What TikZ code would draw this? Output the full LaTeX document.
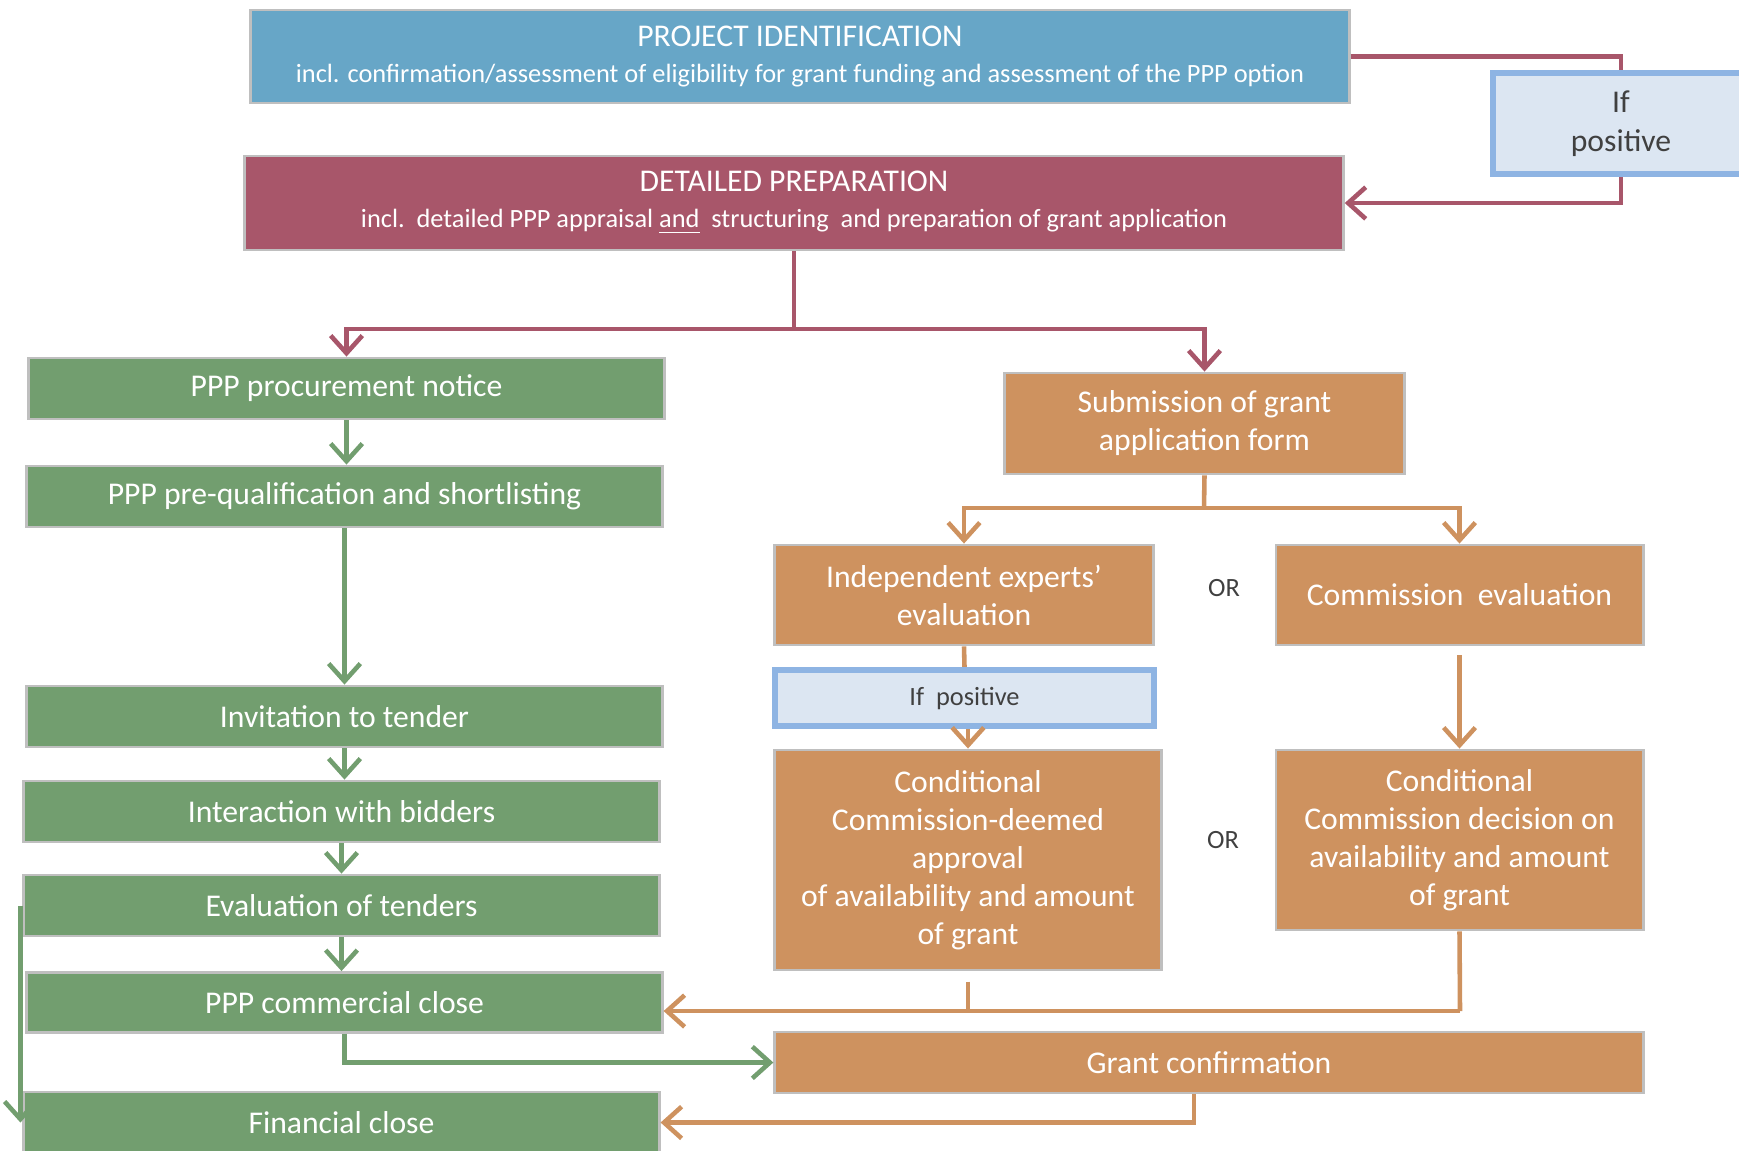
\documentclass[tikz,border=0pt]{standalone}
\usepackage{fontspec}
\setmainfont{Carlito}
\usepackage{tikz}
\usetikzlibrary{arrows.meta}

\definecolor{idblue}{RGB}{103,166,199}
\definecolor{prepred}{RGB}{168,86,106}
\definecolor{procgreen}{RGB}{114,158,111}
\definecolor{grantorange}{RGB}{206,146,95}
\definecolor{notefill}{RGB}{220,230,242}
\definecolor{noteline}{RGB}{142,180,227}

\tikzset{
  stage/.style={draw=gray!50, line width=0.8pt, text=white, align=center, inner sep=0pt,
    font=\fontsize{9}{10.8}\selectfont},
  procstage/.style={stage, fill=procgreen, minimum width=6.35cm, minimum height=0.61cm},
  grantstage/.style={stage, fill=grantorange},
  ifnote/.style={draw=noteline, fill=notefill, line width=1.8pt, text=black!75, align=center, inner sep=0pt},
  flow/.style={line width=1.3pt, >={Straight Barb[length=5pt,width=9pt]}},
  redflow/.style={flow, draw=prepred},
  greenflow/.style={flow, draw=procgreen},
  orangeflow/.style={flow, draw=grantorange}
}

\begin{document}
\begin{tikzpicture}[x=0.01cm, y=-0.01cm]
    \useasboundingbox (0,0) rectangle (1739,1150);

    % top stages
    \node [stage, fill=idblue, minimum width=10.98cm, minimum height=0.93cm] (ident) at (800,56.5)
      {PROJECT IDENTIFICATION\\[-0.7pt] {\fontsize{7.5}{9}\selectfont incl. confirmation/assessment of eligibility for grant funding and assessment of the PPP option}};
    \node [ifnote, minimum width=2.56cm, minimum height=1.01cm, font=\fontsize{9}{11}\selectfont] (ifpos) at (1621,123.5) {If\\positive};
    \node [stage, fill=prepred, minimum width=10.98cm, minimum height=0.94cm] (prep) at (794,203)
      {DETAILED PREPARATION\\[-0.7pt] {\fontsize{7.5}{9}\selectfont incl.\ \ detailed PPP appraisal \underline{and}\ \ structuring\ \ and preparation of grant application}};

    % PPP procurement
    \node [procstage] (notice) at (346.5,388.5) {PPP procurement notice};
    \node [procstage] (prequal) at (344.5,496.5) {PPP pre-qualification and shortlisting};
    \node [procstage] (invite) at (344.5,716.5) {Invitation to tender};
    \node [procstage] (interact) at (341.5,811.5) {Interaction with bidders};
    \node [procstage] (evaltend) at (341.5,905.5) {Evaluation of tenders};
    \node [procstage, minimum height=0.6cm] (commclose) at (344.5,1002.5) {PPP commercial close};
    \node [procstage] (fincl) at (341.5,1122.5) {Financial close};

    % grant application
    \node [grantstage, minimum width=3.99cm, minimum height=1.01cm] (submit) at (1204.5,423.5) {Submission of grant\\application form};
    \node [grantstage, minimum width=3.78cm, minimum height=1cm] (experts) at (964,595) {Independent experts'\\evaluation};
    \node [grantstage, minimum width=3.67cm, minimum height=1cm] (commeval) at (1459.5,595) {Commission\ \ evaluation};
    \node [ifnote, minimum width=3.79cm, minimum height=0.56cm, font=\fontsize{7.5}{9}\selectfont] (ifpos2) at (964.5,698) {If\ \ positive};
    \node [grantstage, minimum width=3.86cm, minimum height=2.2cm] (condL) at (968,860)
      {Conditional\\Commission-deemed\\approval\\of availability and amount\\of grant};
    \node [grantstage, minimum width=3.67cm, minimum height=1.8cm] (condR) at (1459.5,840)
      {Conditional\\Commission decision on\\availability and amount\\of grant};
    \node [grantstage, minimum width=8.68cm, minimum height=0.61cm] (grantconf) at (1209,1062.5) {Grant confirmation};

    \node [text=black!75, font=\fontsize{7.5}{9}\selectfont] (or1) at (1224,588) {OR};
    \node [text=black!75, font=\fontsize{7.5}{9}\selectfont] (or2) at (1223,840) {OR};

    % red connectors
    \draw [redflow] (ident.east) -| (ifpos.north);
    \draw [redflow, ->] (ifpos.south) |- (prep.east);
    \coordinate (split) at (794,329);
    \draw [redflow] (prep.south) -- (split);
    \draw [redflow, ->] (split) -| (notice.north);
    \draw [redflow, ->] (split) -| (submit.north);

    % green connectors
    \draw [greenflow, ->] (notice.south) -- (notice.south |- prequal.north);
    \draw [greenflow, ->] (prequal.south) -- (invite.north);
    \draw [greenflow, ->] (invite.south) -- (invite.south |- interact.north);
    \draw [greenflow, ->] (interact.south) -- (evaltend.north);
    \draw [greenflow, ->] (evaltend.south) -- (evaltend.south |- commclose.north);
    \draw [greenflow, ->] (commclose.south) |- (grantconf.west);
    \draw [greenflow, ->] ([xshift=-0.02cm]evaltend.west) -- ([xshift=-0.02cm]evaltend.west |- fincl.west);

    % orange connectors
    \coordinate (split2) at (1204,508);
    \draw [orangeflow] (submit.south) -- (split2);
    \draw [orangeflow, ->] (split2) -| (experts.north);
    \draw [orangeflow, ->] (split2) -| (commeval.north);
    \draw [orangeflow] (experts.south) -- (ifpos2.north);
    \draw [orangeflow, ->] (ifpos2.south -| condL.north) -- (condL.north);
    \draw [orangeflow, ->] ([yshift=-0.09cm]commeval.south) -- (condR.north);
    \coordinate (merge) at (1460,1011);
    \draw [orangeflow] (condR.south) -- (merge);
    \draw [orangeflow] ([yshift=-0.1cm]condL.south) -- (condL.south |- merge);
    \draw [orangeflow, ->] (merge) -- (merge -| commclose.east);
    \draw [orangeflow, ->] ([xshift=-0.15cm]grantconf.south) |- (fincl.east);
\end{tikzpicture}
\end{document}
